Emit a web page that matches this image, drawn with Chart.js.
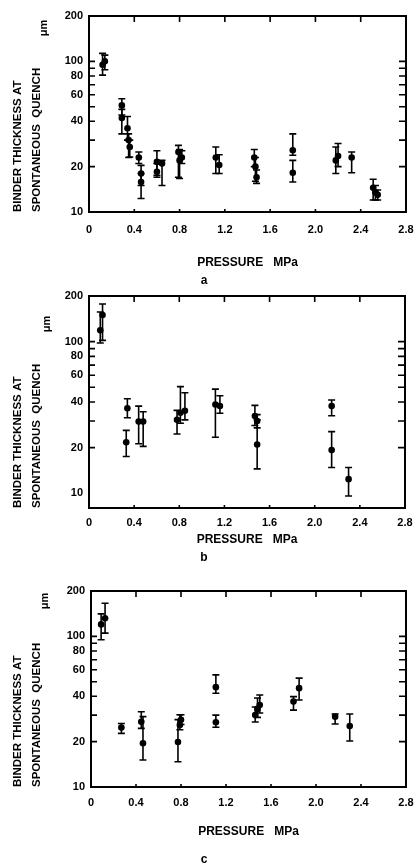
<!DOCTYPE html>
<html><head><meta charset="utf-8">
<script src="https://cdn.jsdelivr.net/npm/chart.js@4.4.1/dist/chart.umd.min.js"></script>
<style>
html,body{margin:0;padding:0;background:#fff;}
body{width:419px;height:868px;position:relative;overflow:hidden;}
canvas{position:absolute;left:0;}
</style></head><body>
<canvas id="ca" width="419" height="290" style="top:0px;width:419px;height:290px"></canvas>
<canvas id="cb" width="419" height="280" style="top:288px;width:419px;height:280px"></canvas>
<canvas id="cc" width="419" height="300" style="top:568px;width:419px;height:300px"></canvas>
<script>
// ---- tick labels / text ----
const xTickValues = [0, 0.4, 0.8, 1.2, 1.6, 2.0, 2.4, 2.8];
const xTickLabels = ['0', '0.4', '0.8', '1.2', '1.6', '2.0', '2.4', '2.8'];
const yTickValues = [10, 20, 40, 60, 80, 100, 200];
const yTickLabels = ['10', '20', '40', '60', '80', '100', '200'];
const yMinorTicks = [20, 30, 40, 50, 60, 70, 80, 90, 100];
const yTitleLines = ['BINDER THICKNESS AT', 'SPONTANEOUS  QUENCH'];
const yUnit = 'μm';
const xTitle = 'PRESSURE   MPa';
const panelLetters = ['a', 'b', 'c'];

// ---- panel a ----
const aPressure  = [0.12, 0.14, 0.29, 0.29, 0.34, 0.35, 0.36, 0.44, 0.46, 0.46, 0.60, 0.60, 0.645, 0.79, 0.80, 0.82, 1.12, 1.15, 1.46, 1.47, 1.48, 1.80, 1.80, 2.18, 2.20, 2.32, 2.51, 2.53, 2.55];
const aThickness = [95, 100, 51, 42, 36, 30, 27, 23, 18, 15.8, 21.5, 18.5, 21, 25, 22, 23, 23, 20.5, 23, 20, 17, 25.7, 18.2, 22, 23.5, 23, 14.5, 13.5, 13];
const aLow       = [81, 88, 44, 33, 30, 23, 23.2, 21, 15, 12.3, 17.5, 17, 15, 17, 16.7, 21, 18, 18, 20, 16, 15.5, 23.8, 15.8, 18, 20, 18.2, 12, 12, 12];
const aHigh      = [113, 110, 56.5, 48, 43, 33, 30, 25, 20.4, 18, 25.5, 21, 22, 27.7, 26, 25.5, 27, 24, 26, 23, 19, 33, 22, 27, 28.5, 25, 16.5, 15, 14];

// ---- panel b ----
const bPressure  = [0.10, 0.12, 0.34, 0.33, 0.44, 0.48, 0.78, 0.81, 0.85, 1.12, 1.16, 1.47, 1.49, 1.49, 2.15, 2.15, 2.30];
const bThickness = [119, 150, 36.4, 21.7, 29.7, 29.7, 30.5, 34.0, 35, 38.5, 37.6, 32.3, 30, 21, 37.6, 19.3, 12.4];
const bLow       = [98, 102, 31.5, 17.5, 21.2, 20.4, 24.6, 29, 30.5, 23.4, 33.7, 28, 27, 14.5, 32.5, 14.8, 9.6];
const bHigh      = [157, 177, 42, 26, 37.6, 34.5, 35.2, 50.5, 46, 48.6, 44, 38, 33, 30.5, 41.2, 25.5, 14.8];

// ---- panel c ----
const cPressure  = [0.09, 0.125, 0.27, 0.447, 0.462, 0.773, 0.79, 0.80, 1.11, 1.11, 1.46, 1.48, 1.50, 1.80, 1.85, 2.17, 2.30];
const cThickness = [120, 132, 24.8, 27.1, 19.5, 19.9, 25.8, 27.9, 46, 26.9, 30, 33, 35, 36.9, 45.3, 29.3, 25.4];
const cLow       = [95, 105, 22.7, 24.5, 15.1, 14.7, 24, 26, 41.9, 24.9, 27, 29, 31, 32.4, 37.8, 26.2, 20.2];
const cHigh      = [141, 166, 26.4, 31.6, 29.3, 28, 30.2, 30.2, 55.5, 30, 34, 39, 40.8, 39.8, 52.8, 30.5, 30.5];

const FONT = "'Liberation Sans', Arial, sans-serif";

const errorBarPlugin = {
  id: 'errorBars',
  beforeDatasetsDraw(chart) {
    const ctx = chart.ctx, xs = chart.scales.x, ys = chart.scales.y;
    ctx.save();
    ctx.strokeStyle = '#000';
    ctx.lineWidth = 1.6;
    chart.data.datasets.forEach(ds => {
      ds.data.forEach((pt, i) => {
        const x = xs.getPixelForValue(pt.x);
        const y1 = ys.getPixelForValue(ds.errLow[i]);
        const y2 = ys.getPixelForValue(ds.errHigh[i]);
        ctx.beginPath();
        ctx.moveTo(x, y1); ctx.lineTo(x, y2);
        ctx.moveTo(x - 3.5, y1); ctx.lineTo(x + 3.5, y1);
        ctx.moveTo(x - 3.5, y2); ctx.lineTo(x + 3.5, y2);
        ctx.stroke();
      });
    });
    ctx.restore();
  }
};

const framePlugin = {
  id: 'frame',
  afterDraw(chart, args, opts) {
    const ctx = chart.ctx, a = chart.chartArea, xs = chart.scales.x, ys = chart.scales.y;
    ctx.save();
    ctx.strokeStyle = '#000';
    ctx.lineWidth = 2;
    ctx.strokeRect(a.left, a.top, a.right - a.left, a.bottom - a.top);
    ctx.lineWidth = 1.6;
    ctx.beginPath();
    xTickValues.slice(1, -1).forEach(v => {
      const x = xs.getPixelForValue(v);
      ctx.moveTo(x, a.top); ctx.lineTo(x, a.top + 6);
      ctx.moveTo(x, a.bottom); ctx.lineTo(x, a.bottom - 3);
    });
    yMinorTicks.forEach(v => {
      const y = ys.getPixelForValue(v);
      ctx.moveTo(a.left, y); ctx.lineTo(a.left + 6, y);
      ctx.moveTo(a.right, y); ctx.lineTo(a.right - 7, y);
    });
    ctx.stroke();
    ctx.fillStyle = '#000';
    ctx.font = 'bold 11px ' + FONT;
    ctx.save();
    ctx.translate(opts.unitX, opts.unitY);
    ctx.rotate(-Math.PI / 2);
    ctx.textAlign = 'center';
    ctx.textBaseline = 'middle';
    ctx.fillText(yUnit, 0, 0);
    ctx.restore();
    ctx.font = 'bold 12px ' + FONT;
    ctx.textAlign = 'center';
    ctx.textBaseline = 'middle';
    ctx.fillText(opts.letter, opts.letterX, opts.letterY);
    ctx.restore();
  }
};

function zeroPad(s) { s.paddingLeft = 0; s.paddingRight = 0; s.paddingTop = 0; s.paddingBottom = 0; }

function makePanel(id, px, ty, lo, hi, L) {
  return new Chart(document.getElementById(id), {
    type: 'scatter',
    data: {
      datasets: [{
        data: px.map((p, i) => ({x: p, y: ty[i]})),
        errLow: lo, errHigh: hi,
        pointRadius: 3.3, pointBorderWidth: 0,
        backgroundColor: '#000', borderColor: '#000'
      }]
    },
    options: {
      responsive: false, animation: false, devicePixelRatio: 1,
      layout: {padding: {left: 0, top: L.top, right: 419 - L.right, bottom: 0}},
      plugins: {
        legend: {display: false}, tooltip: {enabled: false},
        frame: {unitX: L.unitX, unitY: L.unitY, letter: L.letter, letterX: 204, letterY: L.letterY}
      },
      scales: {
        x: {
          type: 'linear', min: 0, max: 2.8,
          afterBuildTicks: s => { s.ticks = xTickValues.map(v => ({value: v})); },
          afterFit: s => { s.height = L.canvasH - L.bottom; zeroPad(s); },
          grid: {display: false, drawTicks: false}, border: {display: false},
          ticks: {autoSkip: false, maxRotation: 0, minRotation: 0, padding: L.xTickPad, color: '#000',
                  font: {family: FONT, size: 11, weight: 'bold'},
                  callback: (v, i) => xTickLabels[i]},
          title: {display: true, text: xTitle, color: '#000',
                  font: {family: FONT, size: 12, weight: 'bold', lineHeight: 1.2},
                  padding: {top: 0, bottom: L.xTitlePad}}
        },
        y: {
          type: 'logarithmic', min: L.yMin, max: 200,
          afterBuildTicks: s => { s.ticks = yTickValues.map(v => ({value: v})); },
          afterFit: s => { s.width = L.left; zeroPad(s); },
          grid: {display: false, drawTicks: false}, border: {display: false},
          ticks: {autoSkip: false, padding: 6, color: '#000',
                  font: {family: FONT, size: 11, weight: 'bold'},
                  callback: (v, i) => yTickLabels[i]},
          title: {display: true, text: yTitleLines, align: 'start', color: '#000',
                  font: {family: FONT, size: 11.5, weight: 'bold', lineHeight: '19px'},
                  padding: {top: 8.5, bottom: 0}}
        }
      }
    },
    plugins: [errorBarPlugin, framePlugin]
  });
}

makePanel('ca', aPressure, aThickness, aLow, aHigh,
  {canvasH: 290, top: 16, bottom: 212, left: 89, right: 406, yMin: 10, xTickPad: 11.5, xTitlePad: 19.8,
   unitX: 44, unitY: 28, letter: panelLetters[0], letterY: 281});
makePanel('cb', bPressure, bThickness, bLow, bHigh,
  {canvasH: 280, top: 8, bottom: 220, left: 89, right: 405, yMin: 8, xTickPad: 8.5, xTitlePad: 20.8,
   unitX: 47, unitY: 36, letter: panelLetters[1], letterY: 270});
makePanel('cc', cPressure, cThickness, cLow, cHigh,
  {canvasH: 300, top: 23, bottom: 219, left: 91, right: 406, yMin: 10, xTickPad: 9.5, xTitlePad: 28.8,
   unitX: 45, unitY: 33, letter: panelLetters[2], letterY: 292});
</script>
</body></html>
